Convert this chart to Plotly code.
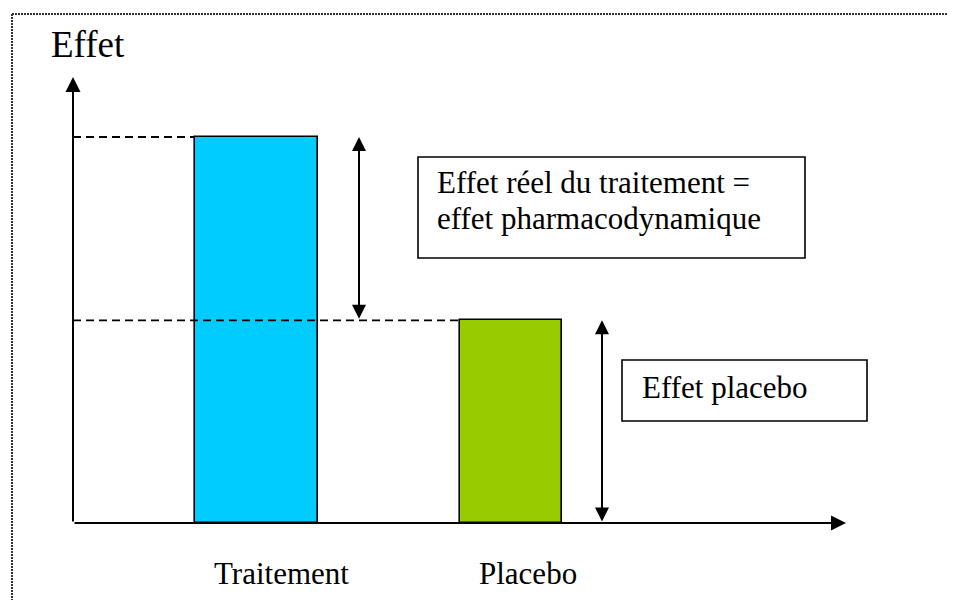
import plotly.graph_objects as go

# ---- data ----
categories = ["Traitement", "Placebo"]
effect_values = [100, 52.5]          # arbitrary effect units
bar_colors = ["#00CCFF", "#99CC00"]
axis_title = "Effet"
box_treatment = ["Effet réel du traitement =", "effet pharmacodynamique"]
box_placebo = "Effet placebo"

# ---- layout constants (figure 956x600; page body adds an 8px margin) ----
W, H = 956, 600
OFF = 8                       # compensate page body margin
px_per_unit = 3.86
base_px = 523 - OFF
y_lo = -(H - base_px) / px_per_unit
y_hi = base_px / px_per_unit


def X(p):
    return p - OFF


def py(p):
    return 1 - (p - OFF) / H


bar_centers = [X(256.5), X(511)]
bar_widths = [123, 102]
axis_x0 = X(73)
axis_x_end = X(846)
axis_y_end = (523 - 77) / px_per_unit
arrow1_x = X(359)
arrow2_x = X(602)
FONT = "Liberation Serif, Times New Roman, serif"

fig = go.Figure()
fig.add_trace(go.Bar(
    x=bar_centers, y=effect_values, width=bar_widths,
    marker=dict(color=bar_colors, line=dict(color="black", width=1.6)),
    hoverinfo="skip", showlegend=False,
))

shapes = []
# dashed reference lines
for i in range(2):
    shapes.append(dict(type="line", xref="x", yref="y", x0=axis_x0, x1=bar_centers[i] - bar_widths[i] / 2,
                       y0=effect_values[i], y1=effect_values[i],
                       line=dict(color="black", width=1.8, dash="8px,5px"), layer="above"))
# text boxes
shapes.append(dict(type="rect", xref="x", yref="paper", x0=X(418), x1=X(805), y0=py(157), y1=py(258),
                   line=dict(color="black", width=1.6), fillcolor="rgba(0,0,0,0)"))
shapes.append(dict(type="rect", xref="x", yref="paper", x0=X(622), x1=X(867), y0=py(360), y1=py(421),
                   line=dict(color="black", width=1.6), fillcolor="rgba(0,0,0,0)"))
# dotted frame (top and left)
shapes.append(dict(type="line", xref="x", yref="paper", x0=X(12), x1=X(956), y0=py(14), y1=py(14),
                   line=dict(color="#333333", width=2, dash="2px,1px")))
shapes.append(dict(type="line", xref="x", yref="paper", x0=X(12), x1=X(12), y0=py(14), y1=0,
                   line=dict(color="#333333", width=2, dash="2px,1px")))

annotations = []
# axes with arrows
annotations.append(dict(x=axis_x0, y=axis_y_end, ax=axis_x0, ay=0, xref="x", yref="y", axref="x", ayref="y",
                        text="", showarrow=True, arrowhead=2, arrowsize=1.5, arrowwidth=2, arrowcolor="black"))
annotations.append(dict(x=axis_x_end, y=0, ax=axis_x0, ay=0, xref="x", yref="y", axref="x", ayref="y",
                        text="", showarrow=True, arrowhead=2, arrowsize=1.5, arrowwidth=2, arrowcolor="black"))
# double-headed arrows
for ax_x, y_top, y_bot in [(arrow1_x, effect_values[0], effect_values[1]), (arrow2_x, effect_values[1], 0)]:
    annotations.append(dict(x=ax_x, y=y_top, ax=ax_x, ay=y_bot,
                            xref="x", yref="y", axref="x", ayref="y", text="", showarrow=True,
                            arrowside="end+start", arrowhead=2, startarrowhead=2,
                            arrowsize=1.4, startarrowsize=1.4, arrowwidth=2, arrowcolor="black"))
# texts
annotations.append(dict(x=X(49), y=py(45), xref="x", yref="paper", text=axis_title, showarrow=False,
                        xanchor="left", yanchor="middle", font=dict(family=FONT, size=37, color="black")))
annotations.append(dict(x=X(435), y=py(182), xref="x", yref="paper", text=box_treatment[0], showarrow=False,
                        xanchor="left", yanchor="middle", font=dict(family=FONT, size=31, color="black")))
annotations.append(dict(x=X(435), y=py(218), xref="x", yref="paper", text=box_treatment[1], showarrow=False,
                        xanchor="left", yanchor="middle", font=dict(family=FONT, size=31, color="black")))
annotations.append(dict(x=X(640), y=py(387), xref="x", yref="paper", text=box_placebo, showarrow=False,
                        xanchor="left", yanchor="middle", font=dict(family=FONT, size=31, color="black")))
label_left = [X(212), X(477)]
for cat, lx in zip(categories, label_left):
    annotations.append(dict(x=lx, y=py(573), xref="x", yref="paper", text=cat, showarrow=False,
                            xanchor="left", yanchor="middle", font=dict(family=FONT, size=31, color="black")))

fig.update_layout(
    width=W, height=H, margin=dict(l=0, r=0, t=0, b=0),
    paper_bgcolor="white", plot_bgcolor="white",
    xaxis=dict(range=[0, W], visible=False, fixedrange=True),
    yaxis=dict(range=[y_lo, y_hi], visible=False, fixedrange=True),
    shapes=shapes, annotations=annotations, bargap=0,
)

fig.write_html("out.html")
